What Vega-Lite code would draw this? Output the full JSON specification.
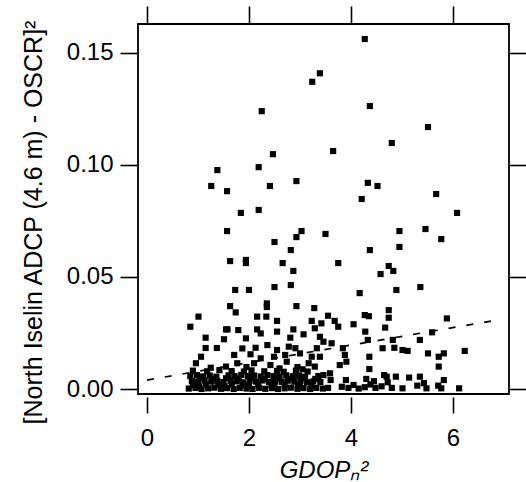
{
  "$schema": "https://vega.github.io/schema/vega-lite/v6.json",
  "autosize": {"type": "none"},
  "width": 371,
  "height": 370,
  "padding": {"left": 138, "top": 24, "right": 17, "bottom": 88},
  "config": {
    "font": "Liberation Sans",
    "view": {"stroke": "black", "strokeWidth": 1.8},
    "axis": {"grid": false, "domain": false, "tickColor": "black", "tickWidth": 1.6, "labelColor": "black", "titleColor": "black"}
  },
  "datasets": {
    "pts": [
      {"x": 4.27, "y": 0.1562}, {"x": 3.39, "y": 0.1409}, {"x": 3.24, "y": 0.1371},
      {"x": 2.25, "y": 0.124}, {"x": 4.37, "y": 0.1263}, {"x": 5.51, "y": 0.1169}, {"x": 4.8, "y": 0.1098},
      {"x": 3.65, "y": 0.1062}, {"x": 2.47, "y": 0.1048}, {"x": 1.38, "y": 0.0977}, {"x": 2.19, "y": 0.099},
      {"x": 1.26, "y": 0.0906}, {"x": 1.57, "y": 0.0883}, {"x": 2.41, "y": 0.0906}, {"x": 2.93, "y": 0.0928},
      {"x": 4.33, "y": 0.092}, {"x": 4.52, "y": 0.0906}, {"x": 4.21, "y": 0.0848}, {"x": 5.67, "y": 0.087},
      {"x": 1.84, "y": 0.0786}, {"x": 2.19, "y": 0.0799}, {"x": 6.08, "y": 0.0786}, {"x": 1.57, "y": 0.0705},
      {"x": 3.03, "y": 0.0705}, {"x": 2.93, "y": 0.0678}, {"x": 3.5, "y": 0.0692}, {"x": 4.95, "y": 0.0705},
      {"x": 5.46, "y": 0.0714}, {"x": 5.77, "y": 0.0669}, {"x": 2.5, "y": 0.0656}, {"x": 2.82, "y": 0.062},
      {"x": 4.37, "y": 0.062}, {"x": 4.95, "y": 0.0634}, {"x": 1.63, "y": 0.0571}, {"x": 1.94, "y": 0.0576},
      {"x": 1.94, "y": 0.0562}, {"x": 2.66, "y": 0.0562}, {"x": 3.75, "y": 0.0562}, {"x": 2.87, "y": 0.0527},
      {"x": 4.74, "y": 0.0549}, {"x": 4.83, "y": 0.0527}, {"x": 4.58, "y": 0.0513}, {"x": 1.73, "y": 0.0442},
      {"x": 2.0, "y": 0.0442}, {"x": 2.5, "y": 0.0455}, {"x": 2.82, "y": 0.0464}, {"x": 4.17, "y": 0.0428},
      {"x": 4.89, "y": 0.0442}, {"x": 5.36, "y": 0.0455}, {"x": 1.63, "y": 0.037}, {"x": 2.35, "y": 0.0382},
      {"x": 2.35, "y": 0.0366}, {"x": 2.93, "y": 0.037}, {"x": 3.28, "y": 0.0361}, {"x": 4.74, "y": 0.0352},
      {"x": 1.01, "y": 0.0323}, {"x": 0.85, "y": 0.0278}, {"x": 1.55, "y": 0.0266}, {"x": 1.15, "y": 0.0229},
      {"x": 1.51, "y": 0.0222}, {"x": 1.15, "y": 0.0183}, {"x": 1.37, "y": 0.0183}, {"x": 1.06, "y": 0.0144},
      {"x": 0.96, "y": 0.0115}, {"x": 1.74, "y": 0.0342}, {"x": 2.16, "y": 0.0323}, {"x": 2.34, "y": 0.0323},
      {"x": 2.55, "y": 0.0304}, {"x": 3.23, "y": 0.0304}, {"x": 1.58, "y": 0.0266}, {"x": 1.79, "y": 0.0263},
      {"x": 2.16, "y": 0.0266}, {"x": 2.55, "y": 0.0256}, {"x": 2.87, "y": 0.0266}, {"x": 1.94, "y": 0.0226},
      {"x": 2.23, "y": 0.0248}, {"x": 2.81, "y": 0.0229}, {"x": 3.07, "y": 0.0244}, {"x": 1.87, "y": 0.0181},
      {"x": 2.13, "y": 0.0184}, {"x": 2.36, "y": 0.0196}, {"x": 2.55, "y": 0.0174}, {"x": 2.78, "y": 0.0189},
      {"x": 2.91, "y": 0.0182}, {"x": 1.71, "y": 0.0152}, {"x": 2.03, "y": 0.0155}, {"x": 2.23, "y": 0.0137},
      {"x": 2.49, "y": 0.0144}, {"x": 2.71, "y": 0.0152}, {"x": 3.0, "y": 0.0159}, {"x": 3.23, "y": 0.0144},
      {"x": 1.55, "y": 0.01}, {"x": 1.77, "y": 0.0115}, {"x": 2.1, "y": 0.0115}, {"x": 2.42, "y": 0.0107},
      {"x": 2.74, "y": 0.0122}, {"x": 3.17, "y": 0.0115},
      {"x": 3.55, "y": 0.0327}, {"x": 3.68, "y": 0.0304}, {"x": 4.27, "y": 0.033}, {"x": 4.35, "y": 0.0325},
      {"x": 4.74, "y": 0.0318}, {"x": 3.42, "y": 0.0293}, {"x": 3.75, "y": 0.0278}, {"x": 4.05, "y": 0.0289},
      {"x": 3.29, "y": 0.0271}, {"x": 4.28, "y": 0.0256}, {"x": 4.67, "y": 0.0274}, {"x": 3.39, "y": 0.0233},
      {"x": 3.46, "y": 0.0211}, {"x": 3.62, "y": 0.0204}, {"x": 4.33, "y": 0.0219}, {"x": 4.82, "y": 0.0219},
      {"x": 3.33, "y": 0.0182}, {"x": 3.84, "y": 0.0182}, {"x": 4.62, "y": 0.0182}, {"x": 4.85, "y": 0.0184},
      {"x": 4.36, "y": 0.0144}, {"x": 3.88, "y": 0.0152}, {"x": 3.39, "y": 0.0144}, {"x": 5.01, "y": 0.0174},
      {"x": 3.91, "y": 0.0122}, {"x": 3.78, "y": 0.0107}, {"x": 4.36, "y": 0.0089}, {"x": 3.29, "y": 0.01},
      {"x": 3.46, "y": 0.0062}, {"x": 3.59, "y": 0.007}, {"x": 4.65, "y": 0.0062}, {"x": 4.88, "y": 0.0055},
      {"x": 5.88, "y": 0.0315}, {"x": 5.59, "y": 0.0253}, {"x": 5.35, "y": 0.0219}, {"x": 5.11, "y": 0.017},
      {"x": 5.51, "y": 0.0159}, {"x": 5.72, "y": 0.0144}, {"x": 5.82, "y": 0.0159}, {"x": 6.23, "y": 0.017},
      {"x": 5.72, "y": 0.01}, {"x": 5.14, "y": 0.0051}, {"x": 5.35, "y": 0.0055}, {"x": 5.3, "y": 0.0015},
      {"x": 5.43, "y": 0.0026}, {"x": 5.48, "y": 0.0003}, {"x": 5.71, "y": 0.0015}, {"x": 5.82, "y": 0.004},
      {"x": 5.77, "y": 0.0003}, {"x": 6.12, "y": 0.0003}, {"x": 5.01, "y": 0.0003},
      {"x": 1.25, "y": 0.0095}, {"x": 1.95, "y": 0.0098}, {"x": 2.6, "y": 0.0092}, {"x": 2.95, "y": 0.0098}, {"x": 3.05, "y": 0.0088},
      {"x": 0.82, "y": 0.0002}, {"x": 0.95, "y": 0.0005}, {"x": 1.07, "y": 0.0}, {"x": 1.2, "y": 0.0003}, {"x": 1.32, "y": 0.0006},
      {"x": 1.45, "y": 0.0001}, {"x": 1.57, "y": 0.0004}, {"x": 1.7, "y": 0.0}, {"x": 1.82, "y": 0.0005}, {"x": 1.95, "y": 0.0002},
      {"x": 2.07, "y": 0.0}, {"x": 2.2, "y": 0.0005}, {"x": 2.32, "y": 0.0001}, {"x": 2.45, "y": 0.0004}, {"x": 2.57, "y": 0.0},
      {"x": 2.7, "y": 0.0003}, {"x": 2.82, "y": 0.0006}, {"x": 2.95, "y": 0.0001}, {"x": 3.07, "y": 0.0004}, {"x": 3.2, "y": 0.0},
      {"x": 3.32, "y": 0.0005}, {"x": 3.45, "y": 0.0002},
      {"x": 0.88, "y": 0.0035}, {"x": 1.0, "y": 0.0032}, {"x": 1.13, "y": 0.0038}, {"x": 1.26, "y": 0.0033}, {"x": 1.38, "y": 0.0036},
      {"x": 1.5, "y": 0.0031}, {"x": 1.64, "y": 0.0037}, {"x": 1.76, "y": 0.0034}, {"x": 1.88, "y": 0.003}, {"x": 2.01, "y": 0.0036},
      {"x": 2.14, "y": 0.0033}, {"x": 2.26, "y": 0.0038}, {"x": 2.39, "y": 0.0031}, {"x": 2.51, "y": 0.0035}, {"x": 2.64, "y": 0.0032},
      {"x": 2.76, "y": 0.0037}, {"x": 2.89, "y": 0.0033}, {"x": 3.01, "y": 0.0036}, {"x": 3.14, "y": 0.003}, {"x": 3.26, "y": 0.0034},
      {"x": 3.4, "y": 0.0031},
      {"x": 0.85, "y": 0.0058}, {"x": 0.98, "y": 0.0062}, {"x": 1.1, "y": 0.0056}, {"x": 1.23, "y": 0.006}, {"x": 1.36, "y": 0.0055},
      {"x": 1.6, "y": 0.0061}, {"x": 1.72, "y": 0.0057}, {"x": 1.85, "y": 0.0063}, {"x": 1.98, "y": 0.0058}, {"x": 2.1, "y": 0.006},
      {"x": 2.23, "y": 0.0056}, {"x": 2.36, "y": 0.0062}, {"x": 2.48, "y": 0.0058}, {"x": 2.6, "y": 0.0055}, {"x": 2.73, "y": 0.0061},
      {"x": 2.86, "y": 0.0057}, {"x": 2.98, "y": 0.006}, {"x": 3.1, "y": 0.0055}, {"x": 3.36, "y": 0.0058},
      {"x": 0.9, "y": 0.0082}, {"x": 1.18, "y": 0.0079}, {"x": 1.42, "y": 0.0084}, {"x": 1.66, "y": 0.008}, {"x": 1.9, "y": 0.0078},
      {"x": 2.05, "y": 0.0083}, {"x": 2.3, "y": 0.0079}, {"x": 2.55, "y": 0.0081}, {"x": 2.68, "y": 0.0077}, {"x": 2.92, "y": 0.0082},
      {"x": 3.15, "y": 0.0078},
      {"x": 0.9, "y": 0.0019}, {"x": 1.15, "y": 0.0021}, {"x": 1.4, "y": 0.0017}, {"x": 1.66, "y": 0.002}, {"x": 1.92, "y": 0.0018},
      {"x": 2.18, "y": 0.0021}, {"x": 2.44, "y": 0.0017}, {"x": 2.7, "y": 0.002}, {"x": 2.96, "y": 0.0018}, {"x": 3.22, "y": 0.0019},
      {"x": 1.03, "y": 0.0047}, {"x": 1.29, "y": 0.0045}, {"x": 1.55, "y": 0.0048}, {"x": 1.8, "y": 0.0046}, {"x": 2.05, "y": 0.0047},
      {"x": 2.31, "y": 0.0045}, {"x": 2.57, "y": 0.0048}, {"x": 2.83, "y": 0.0046}, {"x": 3.09, "y": 0.0047}, {"x": 3.3, "y": 0.0045},
      {"x": 1.02, "y": 0.0012}, {"x": 1.52, "y": 0.0013}, {"x": 2.0, "y": 0.0012}, {"x": 2.5, "y": 0.0013}, {"x": 3.0, "y": 0.0011},
      {"x": 3.55, "y": 0.0005}, {"x": 3.6, "y": 0.004}, {"x": 3.82, "y": 0.001}, {"x": 3.95, "y": 0.0005}, {"x": 4.05, "y": 0.0018},
      {"x": 4.15, "y": 0.0002}, {"x": 3.9, "y": 0.004}, {"x": 4.27, "y": 0.0008}, {"x": 4.38, "y": 0.002}, {"x": 4.48, "y": 0.0005},
      {"x": 4.3, "y": 0.0045}, {"x": 4.6, "y": 0.0012}, {"x": 4.72, "y": 0.003}, {"x": 4.8, "y": 0.0005}, {"x": 4.7, "y": 0.0055},
      {"x": 4.45, "y": 0.0035}
    ],
    "fit": [
      {"x": 0.0, "y": 0.004},
      {"x": 6.9, "y": 0.0309}
    ]
  },
  "resolve": {"axis": {"x": "independent", "y": "independent"}},
  "layer": [
    {
      "data": {"name": "pts"},
      "mark": {"type": "point", "shape": "square", "filled": true, "color": "black", "opacity": 1, "size": 38, "strokeWidth": 0},
      "encoding": {
        "x": {
          "field": "x", "type": "quantitative",
          "scale": {"domain": [-0.176, 7.098], "nice": false, "zero": false},
          "axis": {"orient": "bottom", "values": [0, 2, 4, 6], "tickSize": 16, "offset": 3, "labelFontSize": 24, "labelPadding": 13,
                   "title": "GDOPₙ²", "titleFontSize": 24, "titleFontStyle": "italic", "titleFontWeight": "normal", "titlePadding": 8}
        },
        "y": {
          "field": "y", "type": "quantitative",
          "scale": {"domain": [-0.00223, 0.1629], "nice": false, "zero": false},
          "axis": {"orient": "left", "values": [0, 0.05, 0.1, 0.15], "format": ".2f", "tickSize": 18, "labelFontSize": 24, "labelPadding": 7,
                   "title": "[North Iselin ADCP (4.6 m) - OSCR]²", "titleFontSize": 25, "titleFontWeight": "normal", "titlePadding": 20, "titleY": 198}
        }
      }
    },
    {
      "data": {"name": "fit"},
      "mark": {"type": "line", "color": "black", "strokeWidth": 1.7, "strokeDash": [7, 11]},
      "encoding": {
        "x": {"field": "x", "type": "quantitative",
              "axis": {"orient": "top", "values": [0, 2, 4, 6], "tickSize": 18, "labels": false, "title": null}},
        "y": {"field": "y", "type": "quantitative",
              "axis": {"orient": "right", "values": [0, 0.05, 0.1, 0.15], "tickSize": 18, "labels": false, "title": null}}
      }
    }
  ]
}
